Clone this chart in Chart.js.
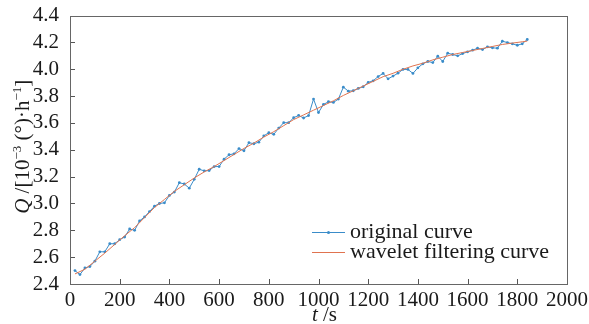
<!DOCTYPE html>
<html>
<head>
<meta charset="utf-8">
<script src="https://cdn.jsdelivr.net/npm/chart.js@4.4.1/dist/chart.umd.min.js"></script>
<style>
  html, body { margin: 0; padding: 0; background: #fff; }
  #wrap { width: 589px; height: 324px; }
</style>
</head>
<body>
<div id="wrap"><canvas id="myChart" width="589" height="324"></canvas></div>
<script>
// time (s) of the original samples
const times = [20, 40, 60, 80, 100, 120, 140, 160, 180, 200,
  220, 240, 260, 280, 300, 320, 340, 360, 380, 400,
  420, 440, 460, 480, 500, 520, 540, 560, 580, 600,
  620, 640, 660, 680, 700, 720, 740, 760, 780, 800,
  820, 840, 860, 880, 900, 920, 940, 960, 980, 1000,
  1020, 1040, 1060, 1080, 1100, 1120, 1140, 1160, 1180, 1200,
  1220, 1240, 1260, 1280, 1300, 1320, 1340, 1360, 1380, 1400,
  1420, 1440, 1460, 1480, 1500, 1520, 1540, 1560, 1580, 1600,
  1620, 1640, 1660, 1680, 1700, 1720, 1740, 1760, 1780, 1800,
  1820, 1840];
const original = [2.50, 2.47, 2.52, 2.53, 2.57, 2.64, 2.64, 2.70, 2.70, 2.73,
  2.75, 2.81, 2.80, 2.87, 2.90, 2.94, 2.98, 3.00, 3.005, 3.06,
  3.085, 3.155, 3.145, 3.114, 3.18, 3.255, 3.243, 3.245, 3.275, 3.275,
  3.33, 3.363, 3.37, 3.409, 3.393, 3.453, 3.445, 3.457, 3.504, 3.527,
  3.515, 3.562, 3.602, 3.602, 3.639, 3.656, 3.637, 3.655, 3.778, 3.678,
  3.738, 3.758, 3.753, 3.778, 3.867, 3.837, 3.84, 3.857, 3.87, 3.902,
  3.914, 3.946, 3.969, 3.929, 3.949, 3.971, 3.999, 3.999, 3.969, 4.011,
  4.041, 4.058, 4.05, 4.097, 4.058, 4.12, 4.11, 4.10, 4.117, 4.13,
  4.142, 4.157, 4.147, 4.167, 4.16, 4.157, 4.209, 4.199, 4.19, 4.179,
  4.19, 4.222];

// wavelet filtered curve, read every 40 s
const filtTimes = [20, 60, 100, 140, 180, 220, 260, 300, 340, 380,
  420, 460, 500, 540, 580, 620, 660, 700, 740, 780,
  820, 860, 900, 940, 980, 1020, 1060, 1100, 1140, 1180,
  1220, 1260, 1300, 1340, 1380, 1420, 1460, 1500, 1540, 1580,
  1620, 1660, 1700, 1740, 1780, 1820, 1840];
const filtered = [2.475, 2.51, 2.57, 2.63, 2.695, 2.76, 2.82, 2.895, 2.97, 3.03,
  3.09, 3.14, 3.19, 3.235, 3.275, 3.32, 3.365, 3.41, 3.45, 3.495,
  3.535, 3.58, 3.625, 3.66, 3.695, 3.73, 3.765, 3.805, 3.84, 3.875,
  3.91, 3.945, 3.97, 4.0, 4.025, 4.045, 4.07, 4.09, 4.11, 4.125,
  4.14, 4.155, 4.17, 4.185, 4.195, 4.205, 4.21];

const seriesNames = ['original curve', 'wavelet filtering curve'];
const xTicks = [0, 200, 400, 600, 800, 1000, 1200, 1400, 1600, 1800, 2000];
const yTicks = [2.4, 2.6, 2.8, 3.0, 3.2, 3.4, 3.6, 3.8, 4.0, 4.2, 4.4];

const BLUE = '#3a8cc9';
const ORANGE = '#e0734f';
const TEXT = '#1a1a1a';
const FONT = '"Liberation Serif", "Times New Roman", serif';

function drawRich(ctx, parts, x, y, size) {
  // draw pieces left to right, starting at x on baseline y
  parts.forEach(p => {
    const s = p.sup ? size * 0.62 : size;
    ctx.font = (p.italic ? 'italic ' : '') + s + 'px ' + FONT;
    ctx.fillText(p.t, x, p.sup ? y - size * 0.38 : y);
    x += ctx.measureText(p.t).width;
  });
}
function richWidth(ctx, parts, size) {
  let w = 0;
  parts.forEach(p => {
    const s = p.sup ? size * 0.62 : size;
    ctx.font = (p.italic ? 'italic ' : '') + s + 'px ' + FONT;
    w += ctx.measureText(p.t).width;
  });
  return w;
}

const decor = {
  id: 'decor',
  afterDraw(chart) {
    const ctx = chart.ctx;
    const a = chart.chartArea;
    const xs = chart.scales.x, ys = chart.scales.y;
    ctx.save();
    // inward ticks
    ctx.strokeStyle = '#555';
    ctx.lineWidth = 1;
    ctx.beginPath();
    xTicks.forEach(v => {
      const px = Math.round(xs.getPixelForValue(v)) + 0.5;
      ctx.moveTo(px, a.bottom); ctx.lineTo(px, a.bottom - 5);
    });
    yTicks.forEach(v => {
      const py = Math.round(ys.getPixelForValue(v)) + 0.5;
      ctx.moveTo(a.left, py); ctx.lineTo(a.left + 5, py);
    });
    ctx.stroke();
    // frame
    ctx.strokeStyle = '#666';
    ctx.strokeRect(Math.round(a.left) + 0.5, Math.round(a.top) + 0.5,
      Math.round(a.right - a.left), Math.round(a.bottom - a.top));

    // legend
    ctx.fillStyle = TEXT;
    ctx.textBaseline = 'middle';
    ctx.font = '22px ' + FONT;
    const lx = 312, ly = [232, 252];
    [BLUE, ORANGE].forEach((c, i) => {
      ctx.strokeStyle = c;
      ctx.beginPath();
      ctx.moveTo(lx, ly[i] + 0.5); ctx.lineTo(lx + 33, ly[i] + 0.5);
      ctx.stroke();
      if (i === 0) {
        ctx.fillStyle = c;
        ctx.beginPath(); ctx.arc(lx + 16.5, ly[i] + 0.5, 1.5, 0, Math.PI * 2); ctx.fill();
      }
      ctx.fillStyle = TEXT;
      ctx.fillText(seriesNames[i], lx + 38, ly[i]);
    });

    // axis titles
    ctx.textBaseline = 'alphabetic';
    const xt = [{ t: 't', italic: true }, { t: ' /s' }];
    const xw = richWidth(ctx, xt, 21);
    drawRich(ctx, xt, (a.left + a.right) / 2 + 6 - xw / 2, 321, 21);

    const yt = [{ t: 'Q', italic: true }, { t: ' /[10' }, { t: '\u22123', sup: true },
      { t: ' (\u00b0)\u00b7h' }, { t: '\u22121', sup: true }, { t: ']' }];
    const yw = richWidth(ctx, yt, 21);
    ctx.translate(29, (a.top + a.bottom) / 2 - 3);
    ctx.rotate(-Math.PI / 2);
    drawRich(ctx, yt, -yw / 2, 0, 21);
    ctx.restore();
  }
};

const ctx = document.getElementById('myChart').getContext('2d');
const chart = new Chart(ctx, {
  type: 'scatter',
  data: {
    datasets: [{
      label: seriesNames[1],
      data: filtTimes.map((t, i) => ({ x: t, y: filtered[i] })),
      showLine: true,
      borderColor: ORANGE,
      borderWidth: 1,
      pointRadius: 0,
      order: 0
    }, {
      label: seriesNames[0],
      data: times.map((t, i) => ({ x: t, y: original[i] })),
      showLine: true,
      borderColor: BLUE,
      backgroundColor: BLUE,
      borderWidth: 1,
      pointRadius: 1.4,
      pointBorderWidth: 0,
      order: 1
    }]
  },
  options: {
    responsive: false,
    animation: false,
    layout: { padding: { top: 15, right: 22, left: 0, bottom: 0 } },
    plugins: { legend: { display: false }, tooltip: { enabled: false } },
    scales: {
      x: {
        type: 'linear', min: 0, max: 2000,
        afterFit(s) { s.height = 40; },
        afterBuildTicks(s) { s.ticks = xTicks.map(v => ({ value: v })); },
        grid: { display: false },
        border: { display: false },
        ticks: { color: TEXT, font: { family: FONT, size: 21 }, padding: -4, maxRotation: 0,
          autoSkip: false, callback: v => String(v) }
      },
      y: {
        type: 'linear', min: 2.4, max: 4.4,
        afterFit(s) { s.width = 70; },
        afterBuildTicks(s) { s.ticks = yTicks.map(v => ({ value: v })); },
        grid: { display: false },
        border: { display: false },
        ticks: { color: TEXT, font: { family: FONT, size: 21 }, padding: 3, autoSkip: false,
          callback: v => v.toFixed(1) }
      }
    }
  },
  plugins: [decor]
});
</script>
</body>
</html>
